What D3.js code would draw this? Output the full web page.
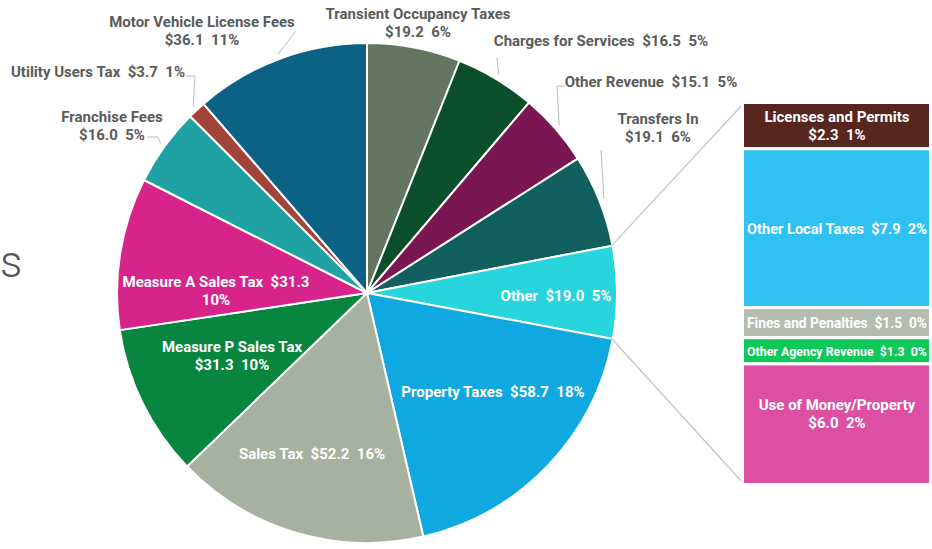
<!DOCTYPE html>
<html>
<head>
<meta charset="utf-8">
<script src="https://cdn.jsdelivr.net/npm/d3@7"></script>
<style>
  body { margin: 0; background: #fff; }
  text { font-family: Roboto, "Noto Sans", sans-serif; }
</style>
</head>
<body>
<div id="chart"></div>
<script>
// pie slices, clockwise from 12 o'clock
var categories = ["Transient Occupancy Taxes", "Charges for Services", "Other Revenue", "Transfers In",
    "Other", "Property Taxes", "Sales Tax", "Measure P Sales Tax", "Measure A Sales Tax",
    "Franchise Fees", "Utility Users Tax", "Motor Vehicle License Fees"];
var values = [19.2, 16.5, 15.1, 19.1, 19.0, 58.7, 52.2, 31.3, 31.3, 16.0, 3.7, 36.1];
var percents = [6, 5, 5, 6, 5, 18, 16, 10, 10, 5, 1, 11];

// breakdown of "Other", top to bottom
var otherCategories = ["Licenses and Permits", "Other Local Taxes", "Fines and Penalties",
    "Other Agency Revenue", "Use of Money/Property"];
var otherValues = [2.3, 7.9, 1.5, 1.3, 6.0];
var otherPercents = [1, 2, 0, 0, 2];

var WIDTH = 932, HEIGHT = 549;
var CX = 367, CY = 293, R = 250;
var FONT = 15;

var colors = ["#647560", "#0a4f29", "#7a1651", "#115f5f", "#28d5dd", "#0fa8e0",
    "#a7b1a0", "#08853f", "#d7248a", "#20a2a5", "#a1443a", "#0b6285"];
var otherColors = ["#57261f", "#2fc1f2", "#b5bcb0", "#0fc85a", "#dd4fa3"];

/**
 * Label layout: x, y of first baseline, style (0: name / value pct, 1: one line,
 * 2: name value / pct), inside (white) or outside (grey), leader elbow points.
 */
var labelLayout = [
    {x: 418, y: 19, fmt: 0, inside: false, lead: null},
    {x: 601, y: 46, fmt: 1, inside: false, lead: [[497, 58]]},
    {x: 651, y: 87, fmt: 1, inside: false, lead: [[565, 86], [557, 86]]},
    {x: 658, y: 124, fmt: 0, inside: false, lead: [[601, 150]]},
    {x: 556, y: 301, fmt: 1, inside: true},
    {x: 493, y: 397, fmt: 1, inside: true},
    {x: 312, y: 459, fmt: 1, inside: true},
    {x: 232, y: 352, fmt: 0, inside: true},
    {x: 216, y: 287, fmt: 2, inside: true},
    {x: 112, y: 122, fmt: 0, inside: false, lead: [[147, 137], [158, 137]]},
    {x: 98, y: 77, fmt: 1, inside: false, lead: [[186, 76], [195, 76]]},
    {x: 202, y: 27, fmt: 0, inside: false, lead: [[296, 31]]}
];
var barLabelLayout = [
    {fmt: 0, dy: 0}, {fmt: 1, dy: 0}, {fmt: 1, dy: 0}, {fmt: 1, dy: 0}, {fmt: 0, dy: -11}
];

var SVG = d3.select("#chart").append("svg")
    .attr("width", WIDTH)
    .attr("height", HEIGHT);

SVG.append("rect").attr("width", WIDTH).attr("height", HEIGHT).attr("fill", "#fff");

// title fragment at the left edge
SVG.append("text").attr("x", 0).attr("y", 277)
    .attr("font-size", 44).attr("font-weight", 300).attr("fill", "#555")
    .text("s");

function labelLines(name, v, p, fmt) {
    var vs = "$" + v.toFixed(1), ps = p + "%";
    if (fmt == 0) return [name, vs + "  " + ps];
    if (fmt == 1) return [name + "  " + vs + "  " + ps];
    return [name + "  " + vs, ps];
}

var pie = d3.pie().sort(null).value(function(d) { return d; });
var arcs = pie(values);
var arc = d3.arc().innerRadius(0).outerRadius(R);

var LAYER_PIE = SVG.append("g").attr("transform", "translate(" + CX + "," + CY + ")");
LAYER_PIE.selectAll("path").data(arcs).enter().append("path")
    .attr("d", arc)
    .attr("fill", function(d, i) { return colors[i]; })
    .attr("stroke", "#fff")
    .attr("stroke-width", 2)
    .attr("stroke-linejoin", "round");

// bar of "Other"
var BAR_X0 = 742.5, BAR_X1 = 930.5;
var barY = d3.scaleLinear().domain([0, d3.sum(otherValues)]).range([102.5, 484.5]);
var cum = 0;
var segs = otherValues.map(function(v, i) {
    var s = {i: i, v: v, y0: barY(cum), y1: barY(cum + v)};
    cum += v;
    return s;
});

// connector lines from the "Other" slice to the bar
var otherArc = arcs[categories.indexOf("Other")];
function edgePoint(a, r) { return [CX + r * Math.sin(a), CY - r * Math.cos(a)]; }
var pTop = edgePoint(otherArc.startAngle, R - 1), pBot = edgePoint(otherArc.endAngle, R - 1);
SVG.append("line").attr("x1", pTop[0]).attr("y1", pTop[1]).attr("x2", BAR_X0 + 1).attr("y2", barY(0) + 1)
    .attr("stroke", "#c6c6c6").attr("stroke-width", 1.3);
SVG.append("line").attr("x1", pBot[0]).attr("y1", pBot[1]).attr("x2", BAR_X0 + 1).attr("y2", barY(cum) - 1)
    .attr("stroke", "#c6c6c6").attr("stroke-width", 1.3);

SVG.append("g").selectAll("rect").data(segs).enter().append("rect")
    .attr("x", BAR_X0).attr("width", BAR_X1 - BAR_X0)
    .attr("y", function(d) { return d.y0; })
    .attr("height", function(d) { return d.y1 - d.y0; })
    .attr("fill", function(d) { return otherColors[d.i]; })
    .attr("stroke", "#fff").attr("stroke-width", 3);

// leader lines
var LAYER_LEAD = SVG.append("g");
arcs.forEach(function(a, i) {
    var L = labelLayout[i];
    if (!L.lead) return;
    var mid = (a.startAngle + a.endAngle) / 2;
    var pts = L.lead.concat([edgePoint(mid, R + 5)]);
    LAYER_LEAD.append("path").attr("d", d3.line()(pts))
        .attr("fill", "none").attr("stroke", "#bdbdbd").attr("stroke-width", 1);
});

// labels
var LAYER_TEXT = SVG.append("g");
function drawLabel(x, y, lines, color, maxW) {
    var t = LAYER_TEXT.append("text").attr("text-anchor", "middle")
        .attr("font-size", FONT).attr("font-weight", 700).attr("fill", color);
    lines.forEach(function(s, k) {
        t.append("tspan").attr("x", x).attr("y", y + k * 18).attr("xml:space", "preserve").text(s);
    });
    // shrink a label that would run past the bar edges
    if (maxW) {
        var w = t.node().getBBox().width;
        if (w > maxW) t.attr("font-size", FONT * maxW / w);
    }
}
categories.forEach(function(c, i) {
    var L = labelLayout[i];
    drawLabel(L.x, L.y, labelLines(c, values[i], percents[i], L.fmt), L.inside ? "#fff" : "#5b5b5b");
});

// bar labels, centred in each segment
segs.forEach(function(s) {
    var L = barLabelLayout[s.i];
    var lines = labelLines(otherCategories[s.i], s.v, otherPercents[s.i], L.fmt);
    var yc = (s.y0 + s.y1) / 2 + L.dy;
    var y = yc + 5.5 - (lines.length - 1) * 9;
    drawLabel((BAR_X0 + BAR_X1) / 2 + 0.5, y, lines, "#fff", BAR_X1 - BAR_X0 - 8);
});
</script>
</body>
</html>
